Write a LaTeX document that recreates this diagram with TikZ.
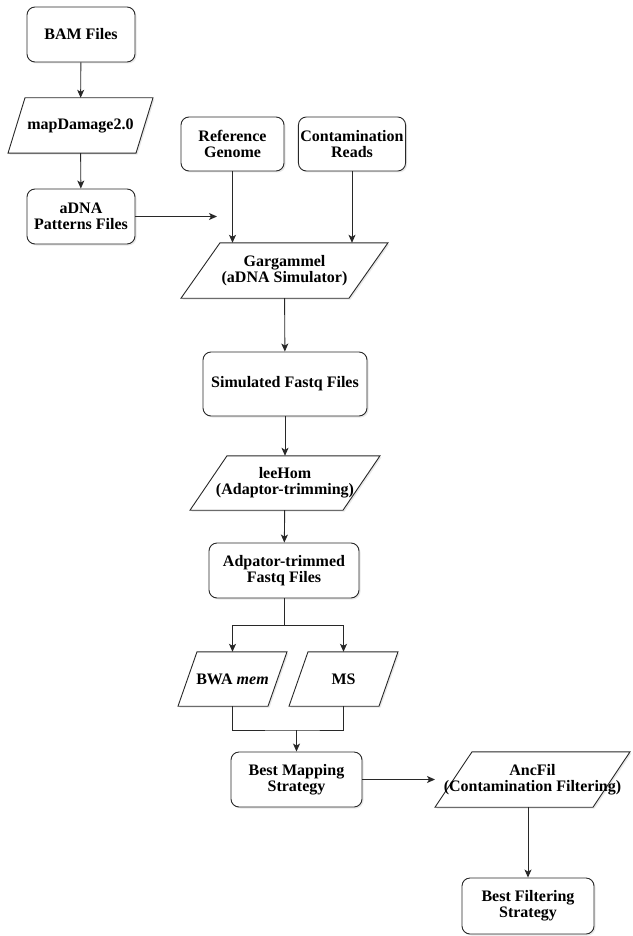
\documentclass[tikz,border=0pt]{standalone}
\usepackage{fontspec}
\setmainfont{Liberation Serif}
\usetikzlibrary{arrows.meta, positioning, shadows, calc, backgrounds}
\definecolor{flowline}{RGB}{40, 40, 40}

\tikzset{
  flowbox/.style={draw=flowline, line width=0.9pt, fill=white, rounded corners=8pt,
    align=center, inner sep=2pt, font=\bfseries\fontsize{16}{16}\selectfont,
    drop shadow={opacity=0.18, shadow xshift=1.5pt, shadow yshift=-1.5pt}},
  % #1 = full width, #2 = slant of the sides
  iobox/.style 2 args={rectangle, align=center, inner sep=2pt, minimum height=55pt,
    font=\bfseries\fontsize{16}{16}\selectfont,
    append after command={\pgfextra{
      \begin{pgfonlayer}{background}
      \draw[draw=flowline, line width=0.9pt, fill=white,
        drop shadow={opacity=0.18, shadow xshift=1.5pt, shadow yshift=-1.5pt}]
        ($(\tikzlastnode.south)+(-#1/2,0pt)$) --
        ($(\tikzlastnode.north)+(-#1/2+#2,0pt)$) --
        ($(\tikzlastnode.north)+(#1/2,0pt)$) --
        ($(\tikzlastnode.south)+(#1/2-#2,0pt)$) -- cycle;
      \end{pgfonlayer}}}},
  flowarrow/.style={draw=flowline, line width=0.9pt, -{Stealth[length=8pt, width=7pt, inset=2pt]}},
  flowjoin/.style={draw=flowline, line width=0.9pt}
}

\begin{document}
\begin{tikzpicture}[x=1pt, y=-1pt]
  \useasboundingbox (0,0) rectangle (632,936);

  % input side
  \node[flowbox, minimum width=108pt, minimum height=55pt] (bam) at (81, 34.5) {BAM Files};
  \node[iobox={145pt}{17pt}] (mapdmg) at (80.5, 125.5) {mapDamage2.0};
  \node[flowbox, minimum width=108pt, minimum height=55pt] (adna) at (81, 216.5) {aDNA\\Patterns Files};
  \coordinate (adnaend) at (217, 216.5);

  \node[flowbox, minimum width=103pt, minimum height=54pt] (refgen) at (232.5, 144) {Reference\\Genome};
  \node[flowbox, minimum width=105pt, minimum height=54pt] (contam) at (352, 144) {Contamination\\Reads};

  % simulation
  \node[iobox={207pt}{39pt}] (garg) at (284.5, 270.5) {Gargammel\\(aDNA Simulator)};
  \node[flowbox, minimum width=164pt, minimum height=64pt] (simfq) at (285, 384) {Simulated Fastq Files};
  \node[iobox={190pt}{37pt}, minimum height=54pt] (leehom) at (285, 483) {leeHom\\(Adaptor-trimming)};
  \node[flowbox, minimum width=150pt, minimum height=55pt] (trimfq) at (284, 570.5) {Adpator-trimmed\\Fastq Files};

  % mapping
  \node[iobox={109pt}{19pt}, minimum height=54pt] (bwa) at (232.5, 679) {BWA \textit{mem}};
  \node[iobox={109pt}{19pt}, minimum height=54pt] (ms) at (343.5, 679) {MS};
  \node[flowbox, minimum width=131pt, minimum height=55pt] (bestmap) at (296.5, 779.5) {Best Mapping\\Strategy};
  \coordinate (split) at (284, 625);
  \coordinate (merge) at (296.5, 730);

  % filtering
  \node[iobox={195pt}{37pt}] (ancfil) at (532.5, 779.5) {AncFil\\(Contamination Filtering)};
  \coordinate (ancfilin) at (435, 779.5);
  \node[flowbox, minimum width=132pt, minimum height=56pt] (bestfilt) at (528, 906) {Best Filtering\\Strategy};

  \draw[flowarrow] (bam) -- (mapdmg);
  \draw[flowarrow] (mapdmg) -- (adna);
  \draw[flowarrow] (adna.east) -- (adnaend);
  \draw[flowarrow] (refgen) -- (refgen |- garg.north);
  \draw[flowarrow] (contam) -- (contam |- garg.north);
  \draw[flowarrow] (garg) -- (simfq);
  \draw[flowarrow] (simfq) -- (leehom);
  \draw[flowarrow] (leehom) -- (trimfq);
  \draw[flowjoin] (trimfq.south) -- (split);
  \draw[flowarrow] (split) -| (bwa.north);
  \draw[flowarrow] (split) -| (ms.north);
  \draw[flowjoin] (bwa.south) |- (merge) -| (ms.south);
  \draw[flowarrow] (merge) -- (bestmap.north);
  \draw[flowarrow] (bestmap.east) -- (ancfilin);
  \draw[flowarrow] (ancfil.south -| bestfilt.north) -- (bestfilt.north);
\end{tikzpicture}
\end{document}
